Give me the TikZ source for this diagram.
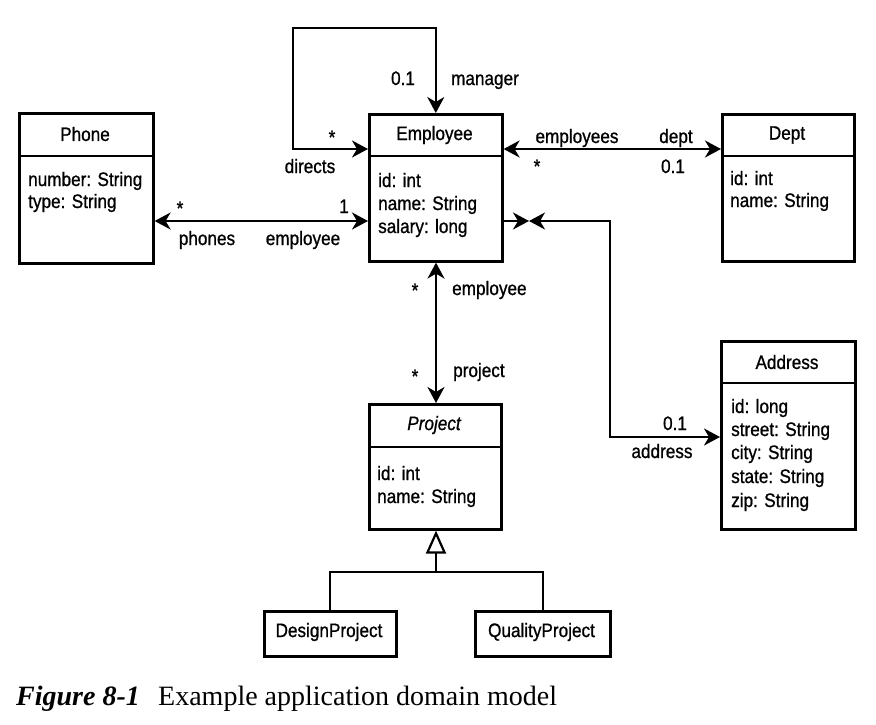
\documentclass[tikz,border=0pt]{standalone}
\usepackage{fontspec}
\setmainfont{Liberation Serif}
\newfontfamily\dfont{Liberation Sans}[FakeStretch=0.88,FakeBold=0.9]
\usetikzlibrary{arrows.meta}
\begin{document}
\begin{tikzpicture}[x=1pt,y=-1pt,
  box/.style={draw, line width=2.6pt, rectangle, inner sep=0pt, anchor=north west},
  div/.style={line width=2.6pt},
  ttl/.style={font=\dfont\fontsize{19.5}{22}\selectfont, inner sep=0pt},
  lbl/.style={font=\dfont\fontsize{19.5}{22}\selectfont, inner sep=0pt, anchor=base},
  attr/.style={font=\dfont\fontsize{19.5}{22}\selectfont, inner sep=0pt, anchor=base west},
  assoc/.style={line width=2.2pt},
  stl/.tip={Stealth[length=16pt,width=17pt,inset=5pt]},
  gen/.tip={Triangle[open,length=23pt,width=20pt,fill=white,line width=2.2pt]},
  capt/.style={font=\fontsize{28}{30}\selectfont, inner sep=0pt, anchor=base west}
]
\useasboundingbox (0,0) rectangle (876,724);

% ---------- Employee ----------
\node[box, minimum width=133pt, minimum height=147pt] (emp) at (368,113) {};
\draw[div] (368,156) -- (501,156);
\node[ttl] (empT) at (434.5,135) {Employee};
\node[attr] (empA1) at (378,187) {id: int};
\node[attr] (empA2) at (378,210) {name: String};
\node[attr] (empA3) at (378,233) {salary: long};

% ---------- Phone ----------
\node[box, minimum width=134pt, minimum height=150pt] (phone) at (18,112) {};
\draw[div] (18,156) -- (152,156);
\node[ttl] (phoneT) at (85,134) {Phone};
\node[attr] (phoneA1) at (28,186) {number: String};
\node[attr] (phoneA2) at (28,208) {type: String};

% ---------- Dept ----------
\node[box, minimum width=132pt, minimum height=147pt] (dept) at (721,113) {};
\draw[div] (721,156) -- (853,156);
\node[ttl] (deptT) at (787,135) {Dept};
\node[attr] (deptA1) at (730,185) {id: int};
\node[attr] (deptA2) at (730,207) {name: String};

% ---------- Address ----------
\node[box, minimum width=134pt, minimum height=188pt] (addr) at (720,340) {};
\draw[div] (720,383) -- (854,383);
\node[ttl] (addrT) at (787,362) {Address};
\node[attr] (addrA1) at (731,413) {id: long};
\node[attr] (addrA2) at (731,436) {street: String};
\node[attr] (addrA3) at (731,459) {city: String};
\node[attr] (addrA4) at (731,483) {state: String};
\node[attr] (addrA5) at (731,507) {zip: String};

% ---------- Project ----------
\node[box, minimum width=132pt, minimum height=125pt] (proj) at (368,403) {};
\draw[div] (368,447) -- (500,447);
\node[ttl, font=\dfont\itshape\fontsize{19.5}{22}\selectfont] (projT) at (434,425) {Project};
\node[attr] (projA1) at (377,480) {id: int};
\node[attr] (projA2) at (377,503) {name: String};

% ---------- Subclasses ----------
\node[box, minimum width=132pt, minimum height=45pt] (dp) at (263,610) {};
\node[ttl] (dpT) at (329,632) {DesignProject};
\node[box, minimum width=135pt, minimum height=45pt] (qp) at (474,610) {};
\node[ttl] (qpT) at (541.5,632) {QualityProject};

% ---------- helper coordinates ----------
\coordinate (lp1) at (293,149);
\coordinate (lp2) at (293,28);
\coordinate (yph) at (0,221);
\coordinate (am) at (529,221);
\coordinate (ac1) at (610,221);
\coordinate (ac2) at (610,437);
\coordinate (gj) at (436,572);

% ---------- connectors ----------
% self association
\draw[assoc, stl-stl] (emp.west |- lp1) -- (lp1) -- (lp2) -- (emp.north |- lp2) -- (emp.north);
\node[lbl] (l01m) at (403,85) {0.1};
\node[lbl] (lman) at (485,85) {manager};
\node[lbl] (lstd) at (332,144) {*};
\node[lbl] (ldir) at (310,173) {directs};

% phone - employee
\draw[assoc, stl-stl] (phone.east |- yph) -- (emp.west |- yph);
\node[lbl] (lsph) at (180,215) {*};
\node[lbl] (l1ph) at (344,213) {1};
\node[lbl] (lphn) at (207,245) {phones};
\node[lbl] (lemp1) at (303,245) {employee};

% employee - dept
\draw[assoc, stl-stl] (emp.east |- lp1) -- (dept.west |- lp1);
\node[lbl] (lemps) at (577,143) {employees};
\node[lbl] (ldept) at (676,143) {dept};
\node[lbl] (lsd) at (537,173) {*};
\node[lbl] (l01d) at (673,173) {0.1};

% employee - address
\draw[assoc, -stl] (emp.east |- am) -- (am);
\draw[assoc, stl-stl] (am) -- (ac1) -- (ac2) -- (addr.west |- ac2);
\node[lbl] (l01a) at (675,430) {0.1};
\node[lbl] (laddr) at (662,458) {address};

% employee - project
\draw[assoc, stl-stl] (emp.south -| gj) -- (proj.north -| gj);
\node[lbl] (lsp1) at (415,297) {*};
\node[lbl, anchor=base west] (lemp2) at (452,295) {employee};
\node[lbl] (lsp2) at (415,383) {*};
\node[lbl, anchor=base west] (lproj) at (453,377) {project};

% generalization
\draw[assoc] (dp.north) |- (gj) -| (qp.north);
\draw[assoc, -gen] (gj) -- (proj.south -| gj);

% ---------- caption ----------
\node[capt, font=\fontsize{28}{30}\selectfont\bfseries\itshape] (figno) at (16,705) {Figure 8-1};
\node[capt] (figtxt) at (158,705) {Example application domain model};
\end{tikzpicture}
\end{document}
